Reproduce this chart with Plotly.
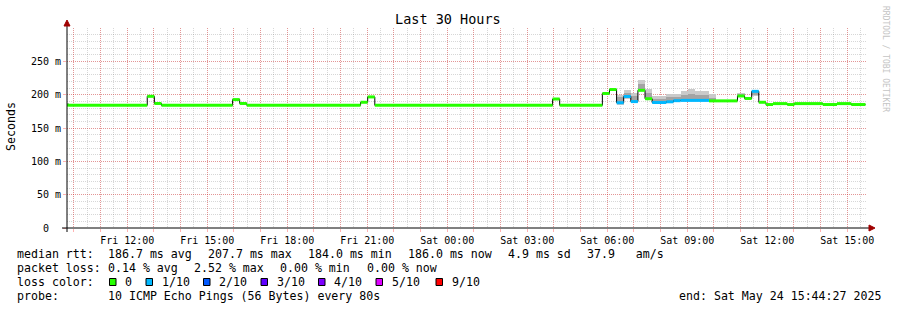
import plotly.graph_objects as go
import pandas as pd

# ---------------- data ----------------
# median RTT, step segments (start time, median in ms, lost pings out of 10)
seg_start = [
    "2025-05-23 09:33", "2025-05-23 09:49", "2025-05-23 12:45", "2025-05-23 13:01",
    "2025-05-23 13:17", "2025-05-23 15:57", "2025-05-23 16:13", "2025-05-23 16:29",
    "2025-05-23 20:45", "2025-05-23 21:01", "2025-05-23 21:17",
    "2025-05-24 03:57", "2025-05-24 04:13", "2025-05-24 05:49", "2025-05-24 06:05",
    "2025-05-24 06:21", "2025-05-24 06:37", "2025-05-24 06:53", "2025-05-24 07:09",
    "2025-05-24 07:25", "2025-05-24 07:41", "2025-05-24 08:13", "2025-05-24 08:29",
    "2025-05-24 08:45", "2025-05-24 09:49", "2025-05-24 10:53", "2025-05-24 11:09",
    "2025-05-24 11:25", "2025-05-24 11:41", "2025-05-24 11:57", "2025-05-24 12:13",
    "2025-05-24 12:45", "2025-05-24 13:01", "2025-05-24 14:05", "2025-05-24 14:37",
    "2025-05-24 15:09",
]
seg_end = "2025-05-24 15:41"
seg_median_ms = [
    184.3, 184.0, 197.5, 186.8,
    184.0, 192.6, 186.8, 184.0,
    188.6, 196.6, 184.0,
    193.5, 184.0, 201.8, 207.7,
    187.9, 197.3, 189.6, 206.5,
    193.9, 188.2, 189.3, 191.0,
    191.4, 190.7, 198.0, 194.3,
    205.0, 188.6, 185.2, 186.6,
    185.2, 186.6, 185.2, 186.6,
    185.2,
]
seg_loss = [
    0, 0, 0, 0,
    0, 0, 0, 0,
    0, 0, 0,
    0, 0, 0, 0,
    1, 1, 1, 0,
    0, 1, 1, 1,
    1, 0, 0, 0,
    1, 0, 0, 0,
    0, 0, 0, 0,
    0,
]

# smoke (ping spread) per 16-minute bin, ms
smoke_start = [
    "2025-05-23 09:33",
    "2025-05-24 06:21", "2025-05-24 06:37", "2025-05-24 06:53", "2025-05-24 07:09",
    "2025-05-24 07:25", "2025-05-24 07:41", "2025-05-24 07:57", "2025-05-24 08:13",
    "2025-05-24 08:29", "2025-05-24 08:45", "2025-05-24 09:01", "2025-05-24 09:17",
    "2025-05-24 09:33", "2025-05-24 09:49", "2025-05-24 10:53", "2025-05-24 11:25",
]
smoke_outer_lo = [184.0, 185.0, 193.0, 190.0, 205.0, 193.0, 187.0, 187.0, 189.0,
                  190.0, 190.0, 190.0, 190.0, 190.0, 190.0, 197.0, 198.0]
smoke_outer_hi = [187.0, 200.0, 207.0, 203.0, 222.0, 208.0, 198.0, 198.0, 201.0,
                  201.0, 206.0, 208.0, 206.0, 206.0, 201.0, 203.0, 206.0]
smoke_inner_lo = [184.0, 186.0, 195.0, 190.0, 206.0, 194.0, 188.0, 188.0, 189.0,
                  190.0, 191.0, 191.0, 191.0, 191.0, 190.0, 198.0, 200.0]
smoke_inner_hi = [185.5, 196.0, 203.0, 198.0, 216.0, 203.0, 194.0, 194.0, 196.0,
                  196.0, 200.0, 201.0, 200.0, 200.0, 195.0, 200.0, 205.0]

loss_labels = ["0", "1/10", "2/10", "3/10", "4/10", "5/10", "9/10"]
loss_colors = ["#26ff00", "#00b8ff", "#0059ff", "#5e00ff", "#7e00ff", "#dd00ff", "#ff0000"]

y_tickvals = [0, 0.05, 0.10, 0.15, 0.20, 0.25]
y_ticktext = ["0\u00a0\u00a0", "50 m", "100 m", "150 m", "200 m", "250 m"]

t_begin = "2025-05-23 09:44:27"
t_finish = "2025-05-24 15:44:27"

rtt_stats = ["186.7 ms avg", "207.7 ms max", "184.0 ms min", "186.0 ms now",
             "4.9 ms sd", "37.9   am/s"]
loss_stats = ["0.14 % avg", "2.52 % max", "0.00 % min", "0.00 % now"]
probe_text = "10 ICMP Echo Pings (56 Bytes) every 80s"
end_text = "end: Sat May 24 15:44:27 2025"

# ---------------- styling ----------------
MONO = "DejaVu Sans Mono"
MAJ = "rgba(255,0,0,0.30)"
MIN = "rgba(110,110,110,0.28)"
DOTS = "1px,1px"
L, R, T, B, W, H = 67, 30, 28, 82, 897, 310
PW, PH = W - L - R, H - T - B


def px(x):
    return (x - L) / PW


def py(y):
    return (H - B - y) / PH


fig = go.Figure()

# smoke
bin_ms = 16 * 60 * 1000
sx = pd.to_datetime(smoke_start)
for lo, hi, col in [(smoke_outer_lo, smoke_outer_hi, "#cacaca"),
                    (smoke_inner_lo, smoke_inner_hi, "#a4a4a4")]:
    fig.add_trace(go.Bar(
        x=sx, base=[v / 1000 for v in lo], y=[(h - l) / 1000 for l, h in zip(lo, hi)],
        width=bin_ms, offset=0, marker=dict(color=col, line=dict(width=0)),
        hoverinfo="skip"))

# median: black step line
starts = list(pd.to_datetime(seg_start))
ends = starts[1:] + [pd.Timestamp(seg_end)]
med = [v / 1000 for v in seg_median_ms]
fig.add_trace(go.Scatter(x=starts + [ends[-1]], y=med + [med[-1]], mode="lines",
                         line=dict(color="#000000", width=1, shape="hv"), hoverinfo="skip"))

# median: coloured bars per loss level
for lvl in sorted(set(seg_loss)):
    xs, ys = [], []
    for s, e, m, l in zip(starts, ends, med, seg_loss):
        if l == lvl:
            xs += [s, e, None]
            ys += [m, m, None]
    fig.add_trace(go.Scatter(x=xs, y=ys, mode="lines",
                             line=dict(color=loss_colors[lvl], width=3), hoverinfo="skip"))

# x ticks: hourly grid, labels every 3 h
hours = pd.date_range("2025-05-23 10:00", "2025-05-24 15:00", freq="1h")
x_ticktext = [h.strftime("%a %H:%M") if h.hour % 3 == 0 else "" for h in hours]

fig.update_layout(
    width=W, height=H, autosize=False,
    margin=dict(l=L, r=R, t=T, b=B, pad=0),
    paper_bgcolor="white", plot_bgcolor="white",
    showlegend=False, barmode="overlay", bargap=0,
    xaxis=dict(type="date", range=[t_begin, t_finish], tickvals=list(hours), ticktext=x_ticktext,
               showgrid=True, gridcolor=MAJ, griddash=DOTS, gridwidth=1,
               ticks="outside", ticklen=3, tickcolor=MAJ, tickwidth=1,
               tickfont=dict(family=MONO, size=10, color="black"),
               showline=False, zeroline=False, fixedrange=True,
               minor=dict(dtick=30 * 60 * 1000, tick0="2025-05-23 00:00", showgrid=True,
                          gridcolor=MIN, griddash=DOTS, gridwidth=1)),
    yaxis=dict(range=[0, 0.3], tickvals=y_tickvals, ticktext=y_ticktext,
               showgrid=True, gridcolor=MAJ, griddash=DOTS, gridwidth=1,
               ticks="outside", ticklen=3, tickcolor=MAJ, tickwidth=1,
               tickfont=dict(family=MONO, size=10, color="black"),
               showline=False, zeroline=False, fixedrange=True,
               minor=dict(dtick=0.01, tick0=0, showgrid=True,
                          gridcolor=MIN, griddash=DOTS, gridwidth=1)),
)

# axis lines with arrows
AX = "#000000"
ARW = "#a00000"
fig.add_shape(type="line", xref="paper", yref="paper", x0=px(62), x1=px(869),
              y0=py(228), y1=py(228), line=dict(color=AX, width=1))
fig.add_shape(type="line", xref="paper", yref="paper", x0=px(67), x1=px(67),
              y0=py(232), y1=py(25), line=dict(color=AX, width=1))
fig.add_shape(type="path", xref="paper", yref="paper",
              path=f"M {px(64)} {py(26)} L {px(70)} {py(26)} L {px(67)} {py(20)} Z",
              fillcolor=ARW, line=dict(color=ARW, width=1))
fig.add_shape(type="path", xref="paper", yref="paper",
              path=f"M {px(869)} {py(225)} L {px(869)} {py(231)} L {px(875)} {py(228)} Z",
              fillcolor=ARW, line=dict(color=ARW, width=1))


def txt(s, x, y, size=11.6, anchor="left", color="black", angle=0):
    fig.add_annotation(text=s.replace(" ", "\u00a0"), x=px(x), y=py(y), xref="paper", yref="paper",
                       xanchor=anchor, yanchor="middle", showarrow=False, borderpad=0,
                       textangle=angle, font=dict(family=MONO, size=size, color=color))


txt("Last 30 Hours", 448, 19, size=13.5, anchor="center")
txt("Seconds", 11, 126, size=11.6, anchor="center", angle=-90)
txt("RRDTOOL / TOBI OETIKER", 886, 59, size=8, anchor="center", color="#c4c4c4", angle=90)

# legend block
row_y = [254, 268, 282, 296]
txt("median rtt:", 16, row_y[0])
for s, x in zip(rtt_stats, [107, 207, 307, 407, 506.5, 586]):
    txt(s, x, row_y[0])
txt("packet loss:", 16, row_y[1])
for s, x in zip(loss_stats, [107, 193, 279, 365.5]):
    txt(s, x, row_y[1])
txt("loss color:", 16, row_y[2])
box_x = [109.5, 146, 203.5, 261, 318.5, 376, 436]
for lab, col, bx in zip(loss_labels, loss_colors, box_x):
    fig.add_shape(type="rect", xref="paper", yref="paper",
                  x0=px(bx), x1=px(bx + 6.5), y0=py(278.5), y1=py(285.5),
                  fillcolor=col, line=dict(color="black", width=1))
    txt(lab, bx + 14.5, row_y[2])
txt("probe:", 16, row_y[3])
txt(probe_text, 107, row_y[3])
txt(end_text, 678, row_y[3])

fig.write_html("out.html")
